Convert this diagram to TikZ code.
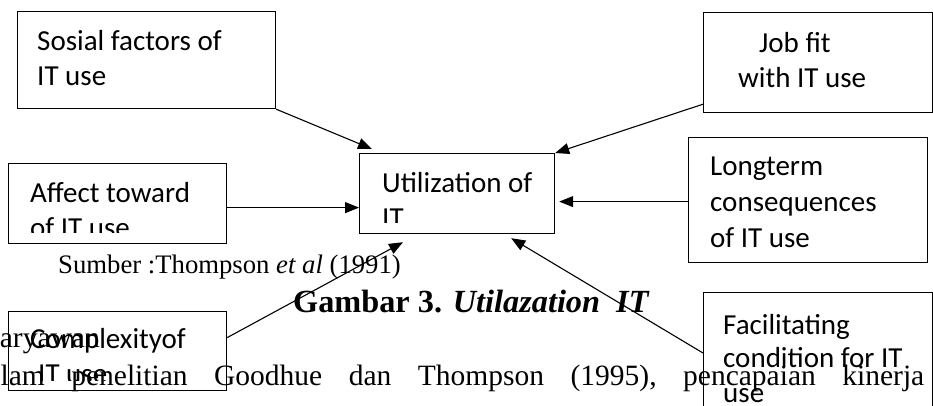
\documentclass[tikz,border=0pt]{standalone}
\usepackage{fontspec}
\setmainfont{Liberation Serif}
\newfontfamily\calfont{Carlito}
\usetikzlibrary{arrows.meta,calc}
\begin{document}
\begin{tikzpicture}[x=1pt,y=-1pt,
  box/.style={draw, line width=1.2pt, inner sep=0pt, anchor=north west},
  bt/.style={anchor=base west, inner sep=0pt, font=\calfont\fontsize{29}{35}\selectfont},
  arr/.style={line width=1.1pt, -{Triangle[length=14pt,width=11pt]}},
  doc/.style={anchor=base west, inner sep=0pt}]
\useasboundingbox (0,0) rectangle (933,405);
\clip (0,0) rectangle (933,405);

% document text behind the boxes
\node[doc, font=\fontsize{26.7}{30}\selectfont] (src) at (58,273) {Sumber :Thompson \textit{et al} (1991)};
\node[doc, font=\fontsize{32.3}{36}\selectfont\bfseries] (cap) at (293,312) {Gambar 3. \textit{Utilazation\ \ IT}};
\node[anchor=base east, inner sep=0pt, font=\fontsize{29.5}{34}\selectfont] (kar) at (100,347) {karyawan};
\node[doc, font=\fontsize{29.5}{34}\selectfont] (body) at (-34,385)
  {\hbox to 958pt{Dalam\hfill penelitian\hfill Goodhue\hfill dan\hfill Thompson\hfill (1995),\hfill pencapaian\hfill kinerja}};

% boxes
\node[box, minimum width=258pt, minimum height=97pt] (sos) at (17,11) {};
\node[box, minimum width=229pt, minimum height=100pt] (job) at (703,12) {};
\node[box, minimum width=218pt, minimum height=80pt] (aff) at (8,163) {};
\node[box, minimum width=195pt, minimum height=80pt] (util) at (359,153) {};
\node[box, minimum width=239pt, minimum height=125pt] (long) at (688,137) {};
\node[box, minimum width=218pt, minimum height=79pt] (comp) at (8,311) {};
\node[box, minimum width=229pt, minimum height=160pt] (fac) at (703,292) {};

% box texts
\node[bt] (sos1) at (37,50) {Sosial factors of};
\node[bt] (sos2) at (37,85) {IT use};
\node[bt] (job1) at (759,52) {Job fit};
\node[bt] (job2) at (738,87) {with IT use};
\node[bt] (long1) at (710,175) {Longterm};
\node[bt] (long2) at (710,211) {consequences};
\node[bt] (long3) at (710,247) {of IT use};
\node[bt] (aff1) at (30,202) {Affect toward};
\begin{scope}
  \clip (8,163) rectangle (226,232);
  \node[bt] (aff2) at (30,237) {of IT use};
\end{scope}
\node[bt] (util1) at (382,192) {Utilization of};
\begin{scope}
  \clip (359,153) rectangle (554,222);
  \node[bt] (util2) at (382,227) {IT};
\end{scope}
\node[bt] (comp1) at (30,348) {Complexityof};
\begin{scope}
  \clip (8,311) rectangle (226,380);
  \node[bt] (comp2) at (38,383) {IT use};
\end{scope}
\node[bt] (fac1) at (723,334) {Facilitating};
\node[bt] (fac2) at (723,367) {condition for IT};
\node[bt] (fac3) at (723,402) {use};

% connectors
\draw[arr] (sos.south east) -- ($(util.north west)+(13,-4)$);
\draw[arr] ($(job.south west)+(0,-9)$) -- (util.north east);
\draw[arr] ($(aff.east)+(0,4)$) -- ($(util.west)+(0,14)$);
\draw[arr] ($(long.west)+(0,1.5)$) -- ($(util.east)+(4,8)$);
\draw[arr] ($(comp.east)+(0,-13.5)$) -- ($(util.south west)+(44,8)$);
\draw[arr] ($(fac.north west)+(0,61)$) -- ($(util.south east)+(-44,4)$);
\end{tikzpicture}
\end{document}
